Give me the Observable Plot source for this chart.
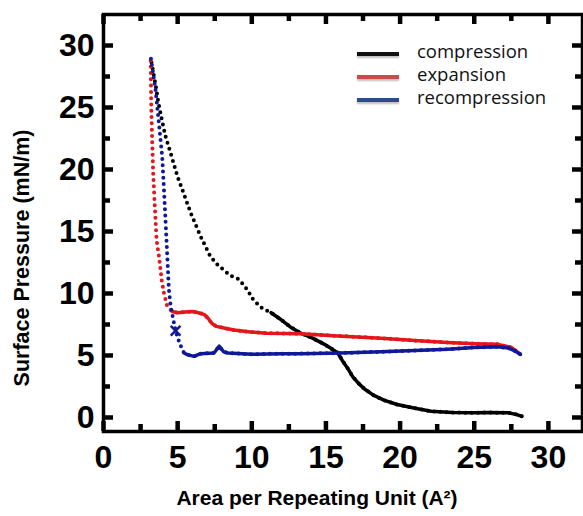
<!DOCTYPE html>
<html><head><meta charset="utf-8">
<script src="https://cdn.jsdelivr.net/npm/d3@7"></script>
<script src="https://cdn.jsdelivr.net/npm/@observablehq/plot@0.6"></script>
<style>
body{margin:0;background:#fff}
#wrap{position:relative;width:583px;height:516px}
#legend{position:absolute;left:357px;top:39px;font-family:"Open Sans",sans-serif;font-size:18.5px;color:#111}
.item{display:flex;align-items:center;height:23px}
.sw{width:42px;height:4px;margin-right:18px;box-shadow:0 2px 2px rgba(0,0,0,0.25);position:relative;top:3px}
</style></head><body><div id="wrap"><div id="legend"></div></div>
<script>
// compression (black), from large area to small
const compressionArea = [28.2, 27.8, 27.3, 26.0, 25.0, 23.5, 22.1, 21.0, 19.8, 18.9, 18.2, 17.6, 17.2, 16.8, 16.5, 16.1, 15.8, 15.3, 14.9, 14.1, 13.3, 12.6, 11.96, 11.3, 10.6, 10.1, 9.7, 9.3, 9.05, 8.7, 8.4, 7.7, 7.2, 6.55, 5.88, 5.4, 5.0, 4.53, 4.2, 3.97, 3.7, 3.5, 3.3, 3.18];
const compressionPressure = [0.1, 0.25, 0.38, 0.4, 0.38, 0.4, 0.5, 0.75, 1.05, 1.4, 1.8, 2.3, 2.75, 3.3, 3.9, 4.6, 5.2, 5.6, 5.9, 6.4, 6.8, 7.3, 7.9, 8.45, 8.9, 9.5, 10.3, 10.9, 11.2, 11.35, 11.6, 12.3, 13.0, 14.6, 16.5, 18.1, 19.4, 21.3, 22.6, 23.8, 25.4, 26.9, 28.2, 29.0];
// expansion (red), from small area to large
const expansionArea = [3.18, 3.22, 3.28, 3.35, 3.46, 3.58, 3.74, 3.85, 3.92, 4.08, 4.3, 4.64, 5.0, 5.5, 6.0, 6.4, 6.8, 7.05, 7.3, 7.6, 8.2, 8.8, 9.9, 11.0, 13.3, 15.5, 18.7, 21.0, 23.2, 25.0, 26.6, 27.5, 28.05];
const expansionPressure = [28.8, 25.0, 22.4, 19.7, 17.0, 14.3, 13.0, 11.9, 11.1, 10.0, 8.95, 8.55, 8.45, 8.5, 8.55, 8.45, 8.3, 8.0, 7.6, 7.35, 7.2, 7.05, 6.9, 6.8, 6.75, 6.6, 6.4, 6.2, 6.05, 5.95, 5.9, 5.65, 5.15];
// recompression (blue), from large area to small
const recompressionArea = [28.1, 27.7, 27.3, 26.6, 25.0, 23.2, 21.0, 18.7, 16.0, 13.3, 12.0, 10.0, 8.4, 8.1, 7.8, 7.45, 6.55, 6.1, 5.65, 5.43, 5.27, 5.09, 4.86, 4.53, 4.41, 4.3, 4.19, 4.08, 3.96, 3.74, 3.51, 3.18];
const recompressionPressure = [5.1, 5.4, 5.6, 5.7, 5.65, 5.5, 5.4, 5.3, 5.2, 5.15, 5.15, 5.1, 5.2, 5.3, 5.75, 5.2, 5.15, 4.93, 5.07, 5.2, 5.6, 6.14, 7.0, 8.95, 10.3, 13.0, 15.7, 18.3, 21.0, 23.7, 26.4, 29.1];
// the "x" marker seen on the recompression curve
const markerArea = [4.86];
const markerPressure = [7.0];

const seriesNames = ["compression", "expansion", "recompression"];
const seriesColors = ["#000000", "#e3161b", "#10189a"];
const legendColors = ["#111111", "#cc4a4a", "#2c4a8c"];
const denseFrom = [11, 4.6, 5.3];

const xMajor = [0, 5, 10, 15, 20, 25, 30];
const xMinor = [2.5, 7.5, 12.5, 17.5, 22.5, 27.5];
const yMajor = [0, 5, 10, 15, 20, 25, 30];
const yMinor = [2.5, 7.5, 12.5, 17.5, 22.5, 27.5];
const xTitle = "Area per Repeating Unit (A\u00B2)";
const yTitle = "Surface Pressure (mN/m)";

const areas = [compressionArea, expansionArea, recompressionArea];
const pressures = [compressionPressure, expansionPressure, recompressionPressure];
const seriesData = areas.map((a, i) => a.map((x, j) => ({area: x, pressure: pressures[i][j]})));
const markerData = markerArea.map((x, j) => ({area: x, pressure: markerPressure[j]}));

const W = 583, H = 516, mL = 103, mR = 1, mT = 14, mB = 85;
const innerW = W - mL - mR, innerH = H - mT - mB;
const major = 10, minor = 7;

const dataMarks = [];
seriesData.forEach((d, i) => {
  dataMarks.push(Plot.line(d, {x: "area", y: "pressure", stroke: seriesColors[i], strokeWidth: 4, strokeDasharray: "0 6.3", strokeLinecap: "round"}));
  dataMarks.push(Plot.line(d, {filter: p => p.area >= denseFrom[i], x: "area", y: "pressure", stroke: seriesColors[i], strokeWidth: 3.5, strokeLinejoin: "round"}));
});

const tk = {stroke: "#000", strokeWidth: 4.5};
const chart = Plot.plot({
  width: W, height: H,
  marginLeft: mL, marginRight: mR, marginTop: mT, marginBottom: mB,
  x: {domain: [0, 32.3]},
  y: {domain: [-1.13, 32.5]},
  style: {fontFamily: "'Liberation Sans', Arial, sans-serif", color: "#000", background: "#fff"},
  marks: [
    ...dataMarks,
    Plot.dot(markerData, {x: "area", y: "pressure", symbol: "times", r: 4.5, stroke: seriesColors[2], strokeWidth: 2.5}),
    // inward ticks on all four sides
    Plot.ruleX(xMajor, {x: d => d, insetTop: innerH - major, ...tk}),
    Plot.ruleX(xMinor, {x: d => d, insetTop: innerH - minor, ...tk}),
    Plot.ruleX(xMajor, {x: d => d, insetBottom: innerH - major, ...tk}),
    Plot.ruleX(xMinor, {x: d => d, insetBottom: innerH - minor, ...tk}),
    Plot.ruleY(yMajor, {y: d => d, insetRight: innerW - major, ...tk}),
    Plot.ruleY(yMinor, {y: d => d, insetRight: innerW - minor, ...tk}),
    Plot.ruleY(yMajor, {y: d => d, insetLeft: innerW - major, ...tk}),
    Plot.ruleY(yMinor, {y: d => d, insetLeft: innerW - minor, ...tk}),
    Plot.frame({strokeWidth: 3.5}),
    Plot.axisX(xMajor, {anchor: "bottom", tickSize: 0, tickPadding: 14, fontSize: 32, fontWeight: "bold", label: null}),
    Plot.axisY(yMajor, {anchor: "left", tickSize: 0, tickPadding: 9, fontSize: 32, fontWeight: "bold", label: null}),
    Plot.text([xTitle], {frameAnchor: "bottom", dx: -26, dy: 67, textAnchor: "middle", lineAnchor: "middle", fontSize: 21, fontWeight: "bold"}),
    Plot.text([yTitle], {frameAnchor: "left", rotate: -90, dx: -81, dy: 35, textAnchor: "middle", lineAnchor: "middle", fontSize: 21.5, fontWeight: "bold"})
  ]
});
document.getElementById("wrap").appendChild(chart);

const legend = document.getElementById("legend");
seriesNames.forEach((name, i) => {
  const item = document.createElement("div");
  item.className = "item";
  const sw = document.createElement("span");
  sw.className = "sw";
  sw.style.background = legendColors[i];
  const label = document.createElement("span");
  label.textContent = name;
  item.appendChild(sw);
  item.appendChild(label);
  legend.appendChild(item);
});
</script>
</body></html>
